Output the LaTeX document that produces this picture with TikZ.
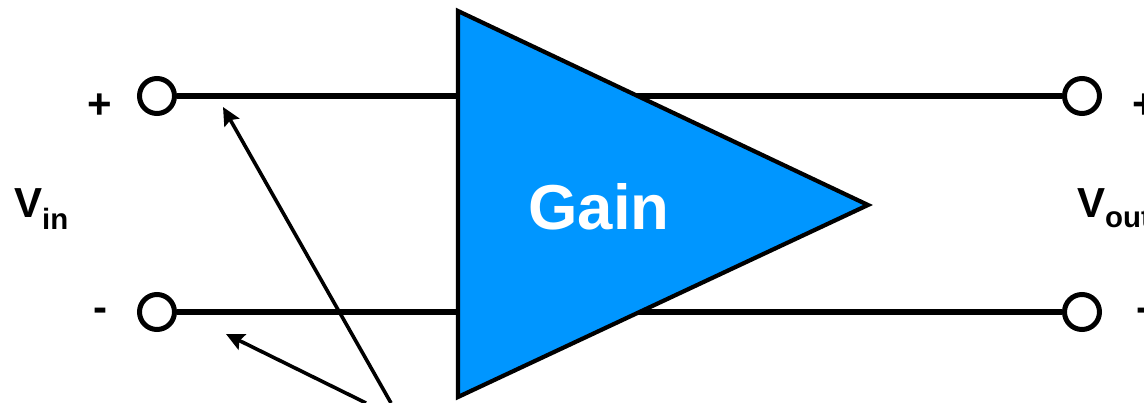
\documentclass[tikz,border=0pt]{standalone}
\usepackage{fontspec}
\setmainfont{Liberation Sans}
\usetikzlibrary{arrows.meta}
\tikzset{
 wire/.style={line width=5.6pt,draw=black},
 term/.style={circle,draw=black,line width=5pt,fill=white,minimum size=35pt,inner sep=0pt},
 lab/.style={font=\bfseries\fontsize{42}{46}\selectfont,inner sep=0pt,text=black},
 callout/.style={line width=3.6pt,draw=black,-{Stealth[length=18pt,width=17pt,inset=3pt]}},
}
\begin{document}
\begin{tikzpicture}[x=1pt,y=-1pt]
\useasboundingbox (0,0) rectangle (1144,402);
\clip (0,0) rectangle (1144,402);
\coordinate (tipA) at (223,107);
\coordinate (tipB) at (226,334);
\coordinate (tailA) at (391,403);
\coordinate (tailB) at (366,403);
\node[term] (inp) at (157,96) {};
\node[term] (inm) at (157,312) {};
\node[term] (outp) at (1082,96) {};
\node[term] (outm) at (1082,312) {};
\draw[wire] (inp) -- (outp);
\draw[wire] (inm) -- (outm);
\draw[callout] (tailA) -- (tipA);
\draw[callout] (tailB) -- (tipB);
\draw[line width=4.2pt,fill={rgb,255:red,0;green,150;blue,255},line join=miter] (458,11) -- (868,205) -- (458,397) -- cycle;
\node[font=\bfseries\fontsize{63.5}{70}\selectfont,text=white,anchor=base] (gain) at (599,229) {Gain};
\node[lab,anchor=base] (plusl) at (100,118) {+};
\node[lab,anchor=base] (minusl) at (100,321) {-};
\node[lab,anchor=base west] (vin) at (14,217) {V\textsubscript{in}};
\node[lab,anchor=base west] (vout) at (1077,217) {V\textsubscript{out}};
\node[lab,anchor=base west] (plusr) at (1132,118) {+};
\node[lab,anchor=base west] (minusr) at (1136,321) {-};
\end{tikzpicture}
\end{document}
